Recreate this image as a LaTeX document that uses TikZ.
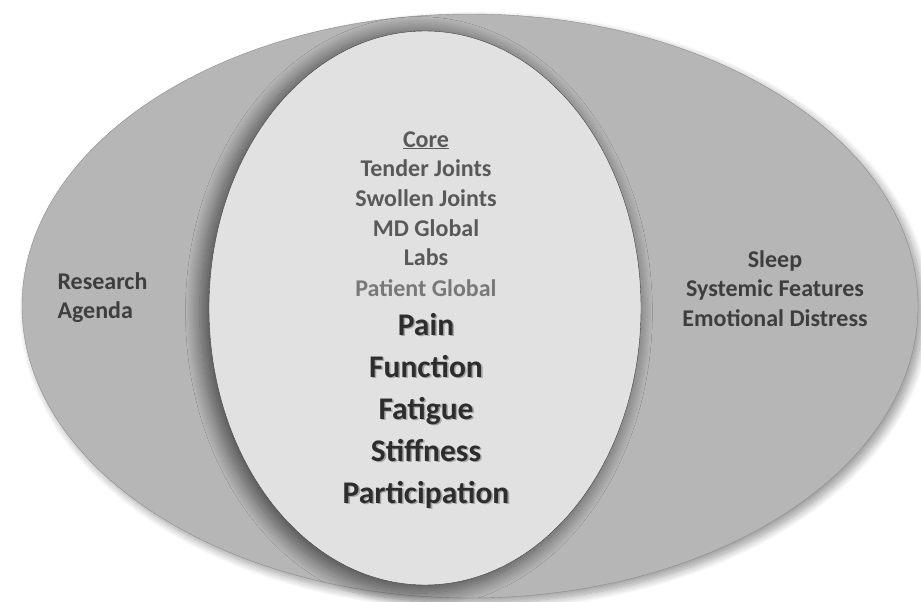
\documentclass[tikz,border=0pt]{standalone}
\usepackage{fontspec}
\setmainfont{Carlito}
\usetikzlibrary{shadows.blur}
\definecolor{outerfill}{RGB}{182,182,182}
\definecolor{innerfill}{RGB}{225,225,225}
\definecolor{coregray}{RGB}{89,89,89}
\definecolor{patientgray}{RGB}{120,120,120}
\definecolor{boldgray}{RGB}{45,45,45}
\definecolor{sidegray}{RGB}{62,62,62}
\newcommand{\softshadow}[1]{\rlap{\kern1.6pt\raisebox{-1.6pt}{\color{black!35}#1}}#1}
\begin{document}
\begin{tikzpicture}[x=1pt,y=-1pt,
    coretext/.style={font=\fontsize{24}{28}\selectfont\bfseries, text=coregray, anchor=base},
    bigtext/.style={font=\fontsize{31.5}{36}\selectfont\bfseries, text=boldgray, anchor=base},
    sidetext/.style={font=\fontsize{24}{28}\selectfont\bfseries, text=sidegray, anchor=base}]
\useasboundingbox (0,0) rectangle (921,602);

% research agenda set
\path[fill=outerfill, draw=black!45, blur shadow={shadow xshift=5pt, shadow yshift=-5pt, shadow blur radius=8pt, shadow blur steps=12, shadow opacity=40}]
    (470,306) ellipse [x radius=448pt, y radius=292pt];

% core set
\path[fill=innerfill, draw=black!75, blur shadow={shadow xshift=-6pt, shadow yshift=-4pt, shadow scale=1.015, shadow blur radius=14pt, shadow blur steps=20, shadow opacity=55}]
    (425,308) ellipse [x radius=216pt, y radius=277pt];

\node[coretext] (core) at (426,147) {\underline{Core}};
\foreach \name/\item [count=\i] in {tender/Tender Joints, swollen/Swollen Joints, mdglobal/MD Global, labs/Labs}
    {
        \node[coretext] (\name) at (426,{147+29.7*\i}) {\item};
    }
\node[coretext, text=patientgray] (ptglobal) at (426,296) {Patient Global};

\foreach \name/\item [count=\i] in {pain/Pain, function/Function, fatigue/Fatigue, stiffness/Stiffness, participation/Participation}
    {
        \node[bigtext] (\name) at (426,{335+42*(\i-1)}) {\softshadow{\item}};
    }

\node[sidetext, anchor=base west] (research) at (54,289) {Research};
\node[sidetext, anchor=base west] (agenda) at (54,318) {Agenda};

\node[sidetext] (sleep) at (775,267) {Sleep};
\node[sidetext] (systemic) at (775,296) {Systemic Features};
\node[sidetext] (emotional) at (775,326) {Emotional Distress};
\end{tikzpicture}
\end{document}
